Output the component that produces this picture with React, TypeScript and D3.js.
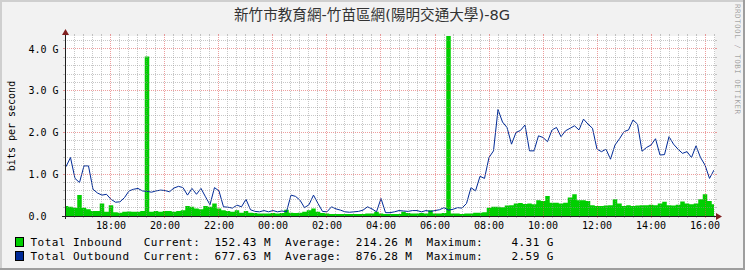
import React from 'react';
import * as d3 from 'd3';

const title = '新竹市教育網-竹苗區網(陽明交通大學)-8G';
const yAxisTitle = 'bits per second';
const watermark = 'RRDTOOL / TOBI OETIKER';

const firstSample = '2024-01-01T16:20:00';
const stepMinutes = 10;
const viewStart = '2024-01-01T16:17:47';
const viewEnd = '2024-01-02T16:22:13';
const yMaxG = 4.31;

// Total Inbound, Gbit/s, every 10 minutes from 16:20
const inboundG = [
  0.24, 0.22, 0.20, 0.50, 0.20, 0.16, 0.12, 0.12, 0.30, 0.10,
  0.26, 0.09, 0.08, 0.10, 0.11, 0.10, 0.10, 0.12, 3.82, 0.10,
  0.12, 0.10, 0.12, 0.12, 0.10, 0.12, 0.14, 0.24, 0.22, 0.18,
  0.16, 0.24, 0.22, 0.30, 0.18, 0.14, 0.12, 0.10, 0.14, 0.08,
  0.12, 0.08, 0.07, 0.06, 0.06, 0.06, 0.07, 0.06, 0.07, 0.15,
  0.08, 0.07, 0.08, 0.10, 0.14, 0.18, 0.10, 0.07, 0.06, 0.05,
  0.05, 0.05, 0.05, 0.05, 0.05, 0.05, 0.05, 0.06, 0.06, 0.10,
  0.06, 0.05, 0.05, 0.05, 0.05, 0.10, 0.07, 0.06, 0.06, 0.07,
  0.06, 0.14, 0.06, 0.06, 0.07, 4.31, 0.06, 0.06, 0.05, 0.06,
  0.06, 0.08, 0.08, 0.09, 0.20, 0.22, 0.22, 0.21, 0.25, 0.26,
  0.30, 0.31, 0.29, 0.30, 0.28, 0.38, 0.36, 0.48, 0.32, 0.32,
  0.30, 0.32, 0.44, 0.52, 0.38, 0.38, 0.36, 0.26, 0.24, 0.24,
  0.25, 0.26, 0.40, 0.30, 0.24, 0.26, 0.24, 0.25, 0.26, 0.26,
  0.27, 0.26, 0.30, 0.34, 0.26, 0.25, 0.27, 0.35, 0.30, 0.28,
  0.30, 0.40, 0.52, 0.36, 0.28,
];

// Total Outbound, Gbit/s, same timestamps
const outboundG = [
  1.18, 1.40, 0.90, 0.80, 1.20, 1.20, 0.64, 0.55, 0.50, 0.52,
  0.40, 0.33, 0.34, 0.44, 0.60, 0.64, 0.66, 0.60, 0.59, 0.57,
  0.60, 0.62, 0.61, 0.58, 0.67, 0.71, 0.68, 0.50, 0.66, 0.52,
  0.66, 0.46, 0.27, 0.68, 0.60, 0.22, 0.21, 0.19, 0.26, 0.22,
  0.40, 0.15, 0.11, 0.10, 0.13, 0.10, 0.13, 0.10, 0.12, 0.10,
  0.50, 0.47, 0.38, 0.20, 0.27, 0.50, 0.30, 0.11, 0.10, 0.22,
  0.17, 0.14, 0.10, 0.09, 0.10, 0.11, 0.14, 0.22, 0.17, 0.10,
  0.42, 0.08, 0.08, 0.10, 0.13, 0.12, 0.11, 0.13, 0.13, 0.10,
  0.13, 0.11, 0.13, 0.15, 0.20, 0.14, 0.16, 0.20, 0.19, 0.30,
  0.68, 0.60, 0.95, 0.90, 1.40, 1.56, 2.55, 2.25, 2.12, 1.72,
  2.00, 2.05, 2.18, 1.56, 1.56, 1.92, 1.88, 1.78, 2.06, 2.12,
  1.90, 2.04, 2.10, 2.16, 2.06, 2.32, 2.20, 2.10, 1.60, 1.54,
  1.60, 1.36, 1.70, 1.85, 2.02, 2.06, 2.30, 2.20, 1.55, 1.64,
  1.70, 1.85, 1.46, 1.47, 1.90, 1.72, 1.60, 1.50, 1.54, 1.40,
  1.68, 1.40, 1.22, 0.90, 1.10,
];

const yTickValues = [0, 1, 2, 3, 4];
const yTickLabels = ['0.0', '1.0 G', '2.0 G', '3.0 G', '4.0 G'];
const xTickLabels = ['18:00', '20:00', '22:00', '00:00', '02:00', '04:00', '06:00', '08:00', '10:00', '12:00', '14:00', '16:00'];

const legendNames = ['Total Inbound', 'Total Outbound'];
const legendCurrent = ['152.43 M', '677.63 M'];
const legendAverage = ['214.26 M', '876.28 M'];
const legendMaximum = ['4.31 G', '2.59 G'];

const MONO = '"DejaVu Sans Mono", monospace';

export default function App() {
  const W = 745, H = 270;
  const X0 = 65, X1 = 715, YT = 36, YB = 216;
  const x = d3.scaleTime().domain([new Date(viewStart), new Date(viewEnd)]).range([X0, X1]);
  const y = d3.scaleLinear().domain([0, yMaxG]).range([YB, YT]);
  const t0 = new Date(firstSample).getTime();
  const times = inboundG.map((_, i) => new Date(t0 + i * stepMinutes * 60000));
  const area = d3.area<number>().x((_, i) => x(times[i])).y0(YB).y1((d) => y(d)).curve(d3.curveStep);
  const line = d3.line<number>().x((_, i) => x(times[i])).y((d) => y(d));
  const snap = (v: number) => Math.floor(v) + 0.5;

  const majorDates = xTickLabels.map((l) => {
    const h = parseInt(l, 10);
    return new Date(2024, 0, h >= 17 ? 1 : 2, h, 0, 0);
  });
  const majorSet = new Set(majorDates.map((d) => d.getTime()));
  const minorDates = d3.timeMinute.every(20)!.range(new Date(viewStart), new Date(viewEnd)).filter((d) => !majorSet.has(d.getTime()));
  const minorY = d3.range(1, 22).filter((k) => k % 5 !== 0 && k * 0.2 < yMaxG).map((k) => k * 0.2);

  const gridCol = 'rgba(143,143,143,0.5)';
  const mgridCol = 'rgba(222,79,79,0.55)';

  const vLine = (d: Date, col: string, key: string) => {
    const xx = snap(x(d));
    return (
      <g key={key}>
        <line x1={xx} x2={xx} y1={YT - 2} y2={YT} stroke={col} />
        <line x1={xx} x2={xx} y1={YB} y2={YB + 2} stroke={col} />
        <line x1={xx} x2={xx} y1={YB} y2={YT} stroke={col} strokeDasharray="1 1" />
      </g>
    );
  };
  const hLine = (v: number, col: string, key: string) => {
    const yy = snap(y(v));
    return (
      <g key={key}>
        <line x1={X0 - 2} x2={X0} y1={yy} y2={yy} stroke={col} />
        <line x1={X1} x2={X1 + 2} y1={yy} y2={yy} stroke={col} />
        <line x1={X0} x2={X1} y1={yy} y2={yy} stroke={col} strokeDasharray="1 1" />
      </g>
    );
  };

  const legendRows = legendNames.map((n, i) =>
    `${n.padEnd(16)}Current:  ${legendCurrent[i]}  Average:  ${legendAverage[i]}  Maximum:  ${legendMaximum[i].padStart(8)}`
  );
  const seriesColors = ['#00CF00', '#002A97'];

  return (
    <svg width={W} height={H} style={{ position: 'absolute', left: 0, top: 0, display: 'block' }}>
      <defs>
        <clipPath id="cv">
          <rect x={X0} y={YT} width={X1 - X0 - 1} height={YB - YT} />
        </clipPath>
      </defs>
      <rect x={0} y={0} width={W} height={H} fill="#F2F2F2" />
      <rect x={0} y={0} width={W} height={2} fill="#CFCFCF" />
      <rect x={0} y={0} width={2} height={H} fill="#CFCFCF" />
      <rect x={W - 2} y={0} width={2} height={H} fill="#9E9E9E" />
      <rect x={0} y={H - 2} width={W} height={2} fill="#9E9E9E" />
      <rect x={X0} y={YT} width={X1 - X0} height={YB - YT} fill="#FFFFFF" />

      <g clipPath="url(#cv)">
        <path d={area(inboundG) || ''} fill={seriesColors[0]} />
        <path d={line(outboundG) || ''} fill="none" stroke={seriesColors[1]} strokeWidth={1} />
      </g>

      <g shapeRendering="crispEdges">
        {minorDates.map((d, i) => vLine(d, gridCol, 'mv' + i))}
        {minorY.map((v, i) => hLine(v, gridCol, 'mh' + i))}
        {majorDates.map((d, i) => vLine(d, mgridCol, 'Mv' + i))}
        {yTickValues.filter((v) => v > 0).map((v, i) => hLine(v, mgridCol, 'Mh' + i))}
        <line x1={X0 - 3} x2={X1 + 3} y1={YB + 0.5} y2={YB + 0.5} stroke="#1F1F1F" />
        <line x1={X0 + 0.5} x2={X0 + 0.5} y1={YB + 3} y2={YT - 3} stroke="#1F1F1F" />
      </g>
      <path d={`M${X1 + 1},${YB - 3}L${X1 + 7},${YB + 0.5}L${X1 + 1},${YB + 4}Z`} fill="#801F1F" />
      <path d={`M${X0 - 3},${YT - 1}L${X0 + 0.5},${YT - 7}L${X0 + 4},${YT - 1}Z`} fill="#801F1F" />

      <g fontFamily={MONO} fontSize={10} fill="#000">
        {yTickValues.map((v, i) => (
          <text key={'yl' + i} x={28.4} y={y(v) + 3.7}>{yTickLabels[i]}</text>
        ))}
        {majorDates.map((d, i) => (
          <text key={'xl' + i} x={x(d)} y={229} textAnchor="middle">{xTickLabels[i]}</text>
        ))}
        <text transform={`translate(15,${(YT + YB) / 2}) rotate(-90)`} textAnchor="middle">{yAxisTitle}</text>
      </g>

      <text x={372} y={20} textAnchor="middle" fontFamily='"DejaVu Sans", "Noto Sans CJK TC", sans-serif' fontSize={14.6} fill="#333">{title}</text>

      <text transform="translate(735,4) rotate(90)" fontFamily={MONO} fontSize={7.6} fill="#000" fillOpacity={0.35} style={{ letterSpacing: '0.45px' }}>{watermark}</text>

      {legendRows.map((row, i) => (
        <g key={'lg' + i}>
          <rect x={15.5} y={237.5 + i * 14} width={8} height={9} fill={seriesColors[i]} stroke="#000" />
          <text x={30.5} y={246 + i * 14} fontFamily={MONO} fontSize={11} fill="#000" style={{ whiteSpace: 'pre', letterSpacing: '0.45px' }}>{row}</text>
        </g>
      ))}
    </svg>
  );
}
